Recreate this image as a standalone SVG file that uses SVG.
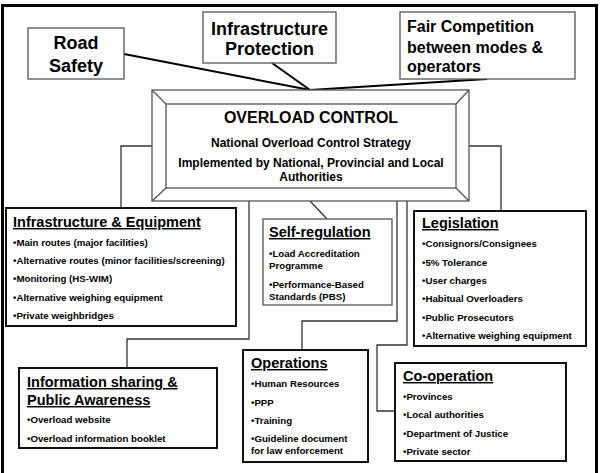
<svg xmlns="http://www.w3.org/2000/svg" width="601" height="473" viewBox="0 0 601 473">
<style>
text{font-family:"Liberation Sans",Arial,sans-serif;font-weight:bold;fill:#000}
.big{font-size:18px;text-anchor:middle}
.fair{font-size:16px}
.ttl{font-size:14.5px;text-decoration:underline}
.b{font-size:9.7px}
.gbox{fill:#fff;stroke:#555;stroke-width:1.3}
.kbox{fill:#fff;stroke:#111;stroke-width:2}
.conn{fill:none;stroke:#333;stroke-width:1.3}
.top{fill:none;stroke:#000;stroke-width:2}
.ov{text-anchor:middle}
</style>
<rect x="0" y="0" width="601" height="473" fill="#fff"/>
<path d="M2.5,480 V5.5 H596.5 V480" fill="none" stroke="#000" stroke-width="3"/>
<g id="connectors">
<path class="top" d="M124,54 L310,90"/>
<path class="top" d="M272,63 L310,90"/>
<path class="top" d="M487,79 L310,90"/>
<path class="conn" d="M152,146 H121 V208"/>
<path class="conn" d="M310,201 L327,219"/>
<path class="conn" d="M469,146 H501 V211"/>
<path class="conn" d="M249,201 V339 H127 V368"/>
<path class="conn" d="M397,201 V321 H302 V350"/>
<path class="conn" d="M407,201 V345 H377 V411 H395"/>
</g>
<g id="road-safety">
<rect class="gbox" x="28" y="28" width="96" height="51"/>
<text class="big" x="76" y="49">Road</text>
<text class="big" x="76" y="72">Safety</text>
</g>
<g id="infrastructure-protection">
<rect class="gbox" x="203" y="12" width="133" height="51"/>
<text class="big" x="269.5" y="35">Infrastructure</text>
<text class="big" x="269.5" y="55">Protection</text>
</g>
<g id="fair-competition">
<rect class="gbox" x="400" y="12" width="175" height="67"/>
<text class="fair" x="407" y="32">Fair Competition</text>
<text class="fair" x="407" y="53">between modes &amp;</text>
<text class="fair" x="407" y="72">operators</text>
</g>
<g id="overload-control">
<rect class="gbox" x="152" y="90" width="317" height="111"/>
<rect fill="none" stroke="#555" stroke-width="1.3" x="166" y="104" width="290" height="84"/>
<path fill="none" stroke="#555" stroke-width="1.3" d="M152,90 L166,104 M469,90 L456,104 M152,201 L166,188 M469,201 L456,188"/>
<text class="ov" x="311" y="123" style="font-size:16px">OVERLOAD CONTROL</text>
<text class="ov" x="311" y="147" style="font-size:12px">National Overload Control Strategy</text>
<text class="ov" x="311" y="167" style="font-size:12px">Implemented by National, Provincial and Local</text>
<text class="ov" x="311" y="181" style="font-size:12px">Authorities</text>
</g>
<g id="infrastructure-equipment">
<rect class="kbox" x="6" y="208" width="230" height="118"/>
<text class="ttl" x="13" y="227">Infrastructure &amp; Equipment</text>
<text class="b" x="13" y="246">•Main routes (major facilities)</text>
<text class="b" x="13" y="264">•Alternative routes (minor facilities/screening)</text>
<text class="b" x="13" y="282">•Monitoring (HS-WIM)</text>
<text class="b" x="13" y="301">•Alternative weighing equipment</text>
<text class="b" x="13" y="319">•Private weighbridges</text>
</g>
<g id="self-regulation">
<rect class="gbox" x="263" y="219" width="129" height="86"/>
<text class="ttl" x="269" y="237">Self-regulation</text>
<text class="b" x="269" y="257">•Load Accreditation</text>
<text class="b" x="269" y="269">Programme</text>
<text class="b" x="269" y="288">•Performance-Based</text>
<text class="b" x="269" y="300">Standards (PBS)</text>
</g>
<g id="legislation">
<rect class="kbox" x="414" y="211" width="172" height="135"/>
<text class="ttl" x="422" y="228">Legislation</text>
<text class="b" x="422" y="247">•Consignors/Consignees</text>
<text class="b" x="422" y="266">•5% Tolerance</text>
<text class="b" x="422" y="284">•User charges</text>
<text class="b" x="422" y="302">•Habitual Overloaders</text>
<text class="b" x="422" y="321">•Public Prosecutors</text>
<text class="b" x="422" y="339">•Alternative weighing equipment</text>
</g>
<g id="information-sharing">
<rect class="kbox" x="19" y="368" width="198" height="80"/>
<text class="ttl" x="27" y="387">Information sharing &amp;</text>
<text class="ttl" x="27" y="405">Public Awareness</text>
<text class="b" x="27" y="423">•Overload website</text>
<text class="b" x="27" y="442">•Overload information booklet</text>
</g>
<g id="operations">
<rect class="kbox" x="243" y="350" width="125" height="112"/>
<text class="ttl" x="251" y="368">Operations</text>
<text class="b" x="251" y="387">•Human Resources</text>
<text class="b" x="251" y="406">•PPP</text>
<text class="b" x="251" y="424">•Training</text>
<text class="b" x="251" y="442">•Guideline document</text>
<text class="b" x="251" y="454">for law enforcement</text>
</g>
<g id="co-operation">
<rect class="kbox" x="395" y="363" width="171" height="98"/>
<text class="ttl" x="403" y="381">Co-operation</text>
<text class="b" x="403" y="400">•Provinces</text>
<text class="b" x="403" y="418">•Local authorities</text>
<text class="b" x="403" y="437">•Department of Justice</text>
<text class="b" x="403" y="455">•Private sector</text>
</g>
</svg>
